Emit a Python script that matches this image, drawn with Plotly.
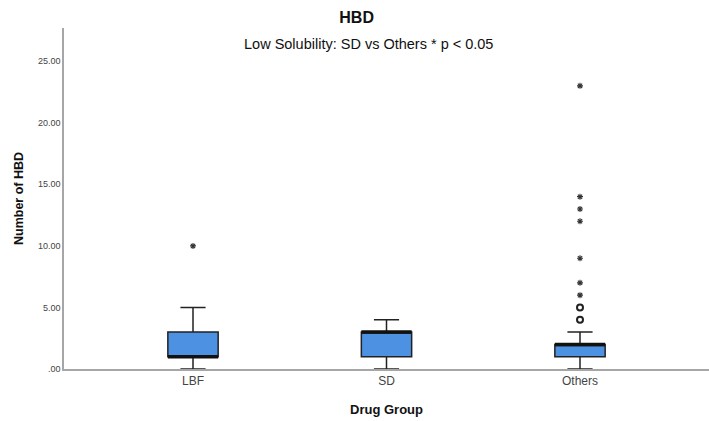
import plotly.graph_objects as go

categories = ["LBF", "SD", "Others"]
q1 = [1, 1, 1]
median = [1, 3, 2]
q3 = [3, 3, 2]
lower_whisker = [0, 0, 0]
upper_whisker = [5, 4, 3]
# outliers per group
circle_outliers = {"Others": [4, 5]}
star_outliers = {"LBF": [10], "Others": [6, 7, 9, 12, 13, 14, 23]}
y_tickvals = [0, 5, 10, 15, 20, 25]
y_ticktext = [".00", "5.00", "10.00", "15.00", "20.00", "25.00"]

BOX_W = 0.26
FILL = "rgb(76,145,226)"
EDGE = "#222222"
FONT = "Arial, Liberation Sans, sans-serif"

pos = list(range(len(categories)))
fig = go.Figure()
for i, c in enumerate(categories):
    fig.add_trace(go.Box(
        x=[pos[i]], q1=[q1[i]], median=[median[i]], q3=[q3[i]],
        lowerfence=[lower_whisker[i]], upperfence=[upper_whisker[i]],
        width=BOX_W, whiskerwidth=0.5, boxpoints=False,
        fillcolor=FILL, line=dict(color=EDGE, width=1.5),
        showlegend=False, hoverinfo="skip"))
    fig.add_trace(go.Scatter(
        x=[pos[i] - BOX_W / 2, pos[i] + BOX_W / 2], y=[median[i], median[i]],
        mode="lines", line=dict(color="#111111", width=3.5),
        showlegend=False, hoverinfo="skip"))

for c, vals in circle_outliers.items():
    i = categories.index(c)
    fig.add_trace(go.Scatter(
        x=[pos[i]] * len(vals), y=vals, mode="markers",
        marker=dict(symbol="circle-open", size=6, color="#222222", line=dict(width=2)),
        showlegend=False))
for c, vals in star_outliers.items():
    i = categories.index(c)
    fig.add_trace(go.Scatter(
        x=[pos[i]] * len(vals), y=vals, mode="markers",
        marker=dict(symbol="asterisk-open", size=5, color="#333333", line=dict(width=1.1)),
        showlegend=False))

fig.update_layout(
    width=709, height=421,
    margin=dict(l=64, r=0, t=28, b=52),
    paper_bgcolor="white", plot_bgcolor="white",
    font=dict(family=FONT, color="#222222"),
    title=dict(text="<b>HBD</b>", x=0.503, xanchor="center", y=1 - 17 / 421,
               yanchor="middle", yref="container", font=dict(size=16, color="#111111")),
    xaxis=dict(
        range=[-2 / 3, len(categories) - 1 + 2 / 3],
        tickvals=pos, ticktext=categories,
        showgrid=False, zeroline=False, showline=True,
        linecolor="#a6a6a6", linewidth=1.5, ticks="",
        tickfont=dict(size=12, color="#444444"),
        title=dict(text="<b>Drug Group</b>", font=dict(size=13, color="#111111"), standoff=18)),
    yaxis=dict(
        range=[0, 27.7], tickvals=y_tickvals, ticktext=y_ticktext,
        showgrid=False, zeroline=False, showline=True,
        linecolor="#a6a6a6", linewidth=1.5, ticks="",
        tickfont=dict(size=9, color="#444444"),
        title=dict(text="<b>Number of HBD</b>", font=dict(size=12.5, color="#111111"), standoff=12)),
    annotations=[dict(
        text="Low Solubility: SD vs Others * p &lt; 0.05",
        xref="paper", yref="paper", x=(368 - 64) / 645, y=(369 - 44) / 341,
        xanchor="center", yanchor="middle", showarrow=False,
        font=dict(size=14.5, color="#111111"))],
)

fig.write_html("out.html", config={"displayModeBar": False},
               post_script="document.body.style.margin='0';document.body.style.overflow='hidden';")
